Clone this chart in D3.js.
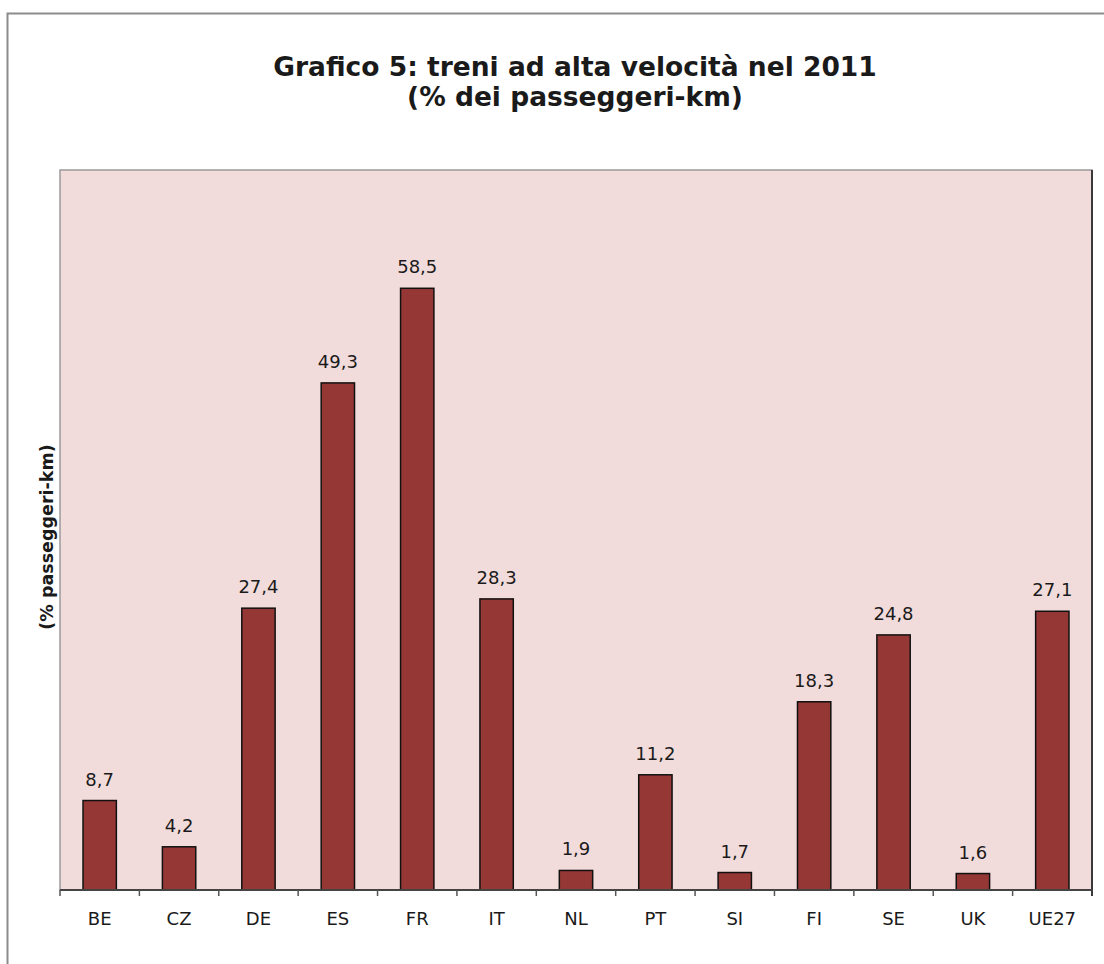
<!doctype html>
<html>
<head>
<meta charset="utf-8">
<title>Grafico 5</title>
<script src="https://cdn.jsdelivr.net/npm/d3@7"></script>
<style>
  body { margin: 0; background: #fff; }
  text { font-family: "DejaVu Sans", Verdana, sans-serif; fill: #1a1a1a; }
</style>
</head>
<body>
<div id="chart"></div>
<script>
  // data
  var countries = ["BE", "CZ", "DE", "ES", "FR", "IT", "NL", "PT", "SI", "FI", "SE", "UK", "UE27"];
  var shares = [8.7, 4.2, 27.4, 49.3, 58.5, 28.3, 1.9, 11.2, 1.7, 18.3, 24.8, 1.6, 27.1];
  var titleLines = ["Grafico 5: treni ad alta velocità nel 2011", "(% dei passeggeri-km)"];
  var yTitle = "(% passeggeri-km)";
  var yMax = 70;

  var width = 1104, height = 964;
  var plot = {left: 60, right: 1092, top: 170, bottom: 890};

  var svg = d3.select("#chart").append("svg")
      .attr("width", width)
      .attr("height", height);

  // outer chart frame (runs off the right / bottom edge)
  svg.append("rect")
      .attr("x", 7.5).attr("y", 13.5)
      .attr("width", 1120).attr("height", 980)
      .attr("fill", "#fff")
      .attr("stroke", "#8c8c8c")
      .attr("stroke-width", 2);

  // title
  svg.selectAll(".title")
      .data(titleLines)
    .enter().append("text")
      .attr("class", "title")
      .attr("x", 575)
      .attr("y", function(d, i) { return 76 + i * 30; })
      .attr("text-anchor", "middle")
      .style("font-weight", "bold").style("font-size", "26.5px")
      .text(function(d) { return d; });

  var x = d3.scaleBand()
      .domain(countries)
      .range([plot.left, plot.right])
      .padding(0);

  var y = d3.scaleLinear()
      .domain([0, yMax])
      .range([plot.bottom, plot.top]);

  // plot background
  svg.append("rect")
      .attr("x", plot.left).attr("y", plot.top)
      .attr("width", plot.right - plot.left)
      .attr("height", plot.bottom - plot.top)
      .attr("fill", "#f2dcdb")
      .attr("stroke", "#9a9a9a")
      .attr("stroke-width", 1.5);

  // darker right edge
  svg.append("line")
      .attr("x1", plot.right).attr("x2", plot.right)
      .attr("y1", plot.top).attr("y2", plot.bottom + 6)
      .attr("stroke", "#3a3a3a")
      .attr("stroke-width", 2);

  var barW = x.bandwidth() * 0.42;
  var data = countries.map(function(c, i) { return {c: c, v: shares[i]}; });

  svg.selectAll(".bar")
      .data(data)
    .enter().append("rect")
      .attr("class", "bar")
      .attr("x", function(d) { return x(d.c) + (x.bandwidth() - barW) / 2; })
      .attr("y", function(d) { return y(d.v); })
      .attr("width", barW)
      .attr("height", function(d) { return y(0) - y(d.v); })
      .attr("fill", "#953735")
      .attr("stroke", "#111")
      .attr("stroke-width", 1.5);

  svg.selectAll(".lbl")
      .data(data)
    .enter().append("text")
      .attr("class", "lbl")
      .attr("x", function(d) { return x(d.c) + x.bandwidth() / 2; })
      .attr("y", function(d) { return y(d.v) - 15; })
      .attr("text-anchor", "middle")
      .style("font-size", "18px")
      .text(function(d) { return d3.format(".1f")(d.v).replace(".", ","); });

  // category axis
  var xAxis = svg.append("g")
      .attr("transform", "translate(0," + plot.bottom + ")");
  xAxis.append("line")
      .attr("x1", plot.left).attr("x2", plot.right)
      .attr("stroke", "#444").attr("stroke-width", 2);
  xAxis.selectAll(".tk")
      .data(countries)
    .enter().append("line")
      .attr("class", "tk")
      .attr("x1", function(d) { return x(d); })
      .attr("x2", function(d) { return x(d); })
      .attr("y1", 0).attr("y2", 6)
      .attr("stroke", "#555").attr("stroke-width", 1.5);
  xAxis.selectAll(".cat")
      .data(countries)
    .enter().append("text")
      .attr("class", "cat")
      .attr("x", function(d) { return x(d) + x.bandwidth() / 2; })
      .attr("y", 35)
      .attr("text-anchor", "middle")
      .style("font-size", "18px")
      .text(function(d) { return d; });

  // y axis title
  svg.append("text")
      .attr("transform", "translate(53,537) rotate(-90)")
      .attr("text-anchor", "middle")
      .style("font-weight", "bold").style("font-size", "17.5px")
      .text(yTitle);
</script>
</body>
</html>
